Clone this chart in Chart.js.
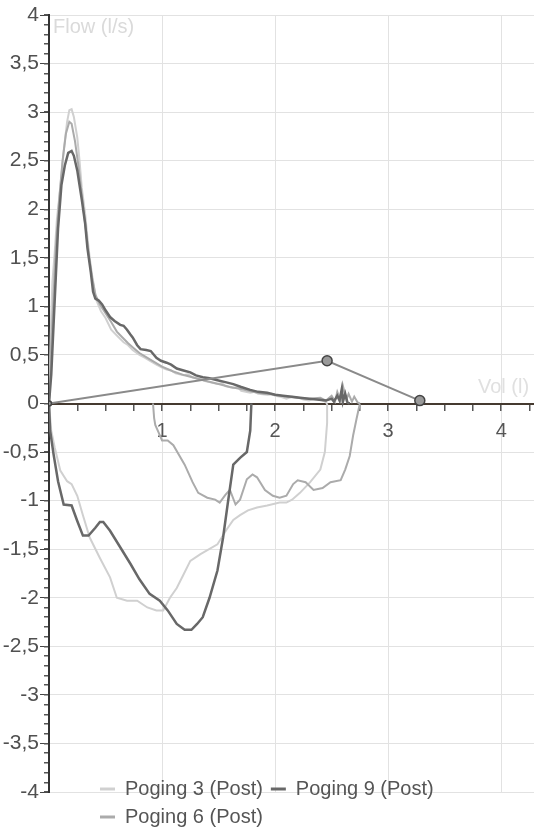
<!DOCTYPE html>
<html><head><meta charset="utf-8">
<script src="https://cdn.jsdelivr.net/npm/chart.js@4.4.1/dist/chart.umd.min.js"></script>
<style>html,body{margin:0;padding:0;background:#fff;}canvas{display:block;}</style>
</head><body>
<canvas id="c" width="534" height="829"></canvas>
<script>
// ---------------- data ----------------
const seriesNames = ['Poging 3 (Post)', 'Poging 9 (Post)', 'Poging 6 (Post)'];

const p3ExpVol  = [0,0.01,0.02,0.03,0.05,0.07,0.1,0.13,0.16,0.18,0.2,0.22,0.25,0.27,0.29,0.32,0.34,0.36,0.38,0.42,0.46,0.5,0.55,0.6,0.66,0.7,0.74,0.8,0.85,0.89,0.95,1.0,1.04,1.08,1.12,1.19,1.23,1.27,1.34,1.38,1.42,1.49,1.53,1.56,1.63,1.67,1.7,1.78,1.82,1.85,1.93,1.97,2.0,2.05,2.1,2.15,2.2,2.25,2.3,2.35,2.4,2.44,2.46];
const p3ExpFlow = [0,0.45,0.9,1.25,1.55,1.9,2.22,2.6,2.9,3.02,3.03,2.95,2.74,2.5,2.22,1.95,1.71,1.5,1.33,1.06,0.95,0.88,0.76,0.7,0.63,0.6,0.55,0.5,0.47,0.44,0.4,0.37,0.35,0.34,0.31,0.29,0.3,0.27,0.25,0.23,0.22,0.2,0.21,0.18,0.16,0.17,0.13,0.11,0.12,0.1,0.09,0.1,0.08,0.07,0.05,0.07,0.06,0.04,0.03,0.05,0.04,0.02,0];
const p3InsVol  = [0,0.02,0.05,0.1,0.16,0.2,0.25,0.3,0.36,0.45,0.54,0.6,0.69,0.78,0.87,0.95,1.01,1.07,1.13,1.19,1.25,1.34,1.49,1.57,1.63,1.69,1.76,1.84,1.93,2.04,2.1,2.15,2.22,2.31,2.4,2.44,2.46,2.46];
const p3InsFlow = [0,-0.28,-0.45,-0.69,-0.8,-0.83,-0.95,-1.15,-1.38,-1.59,-1.79,-2.0,-2.03,-2.03,-2.1,-2.13,-2.13,-2.0,-1.9,-1.76,-1.62,-1.55,-1.45,-1.3,-1.2,-1.15,-1.1,-1.07,-1.05,-1.02,-1.02,-0.99,-0.92,-0.81,-0.68,-0.5,-0.2,0];

const p9ExpVol  = [0,0.02,0.04,0.06,0.08,0.11,0.14,0.17,0.2,0.22,0.25,0.27,0.29,0.32,0.34,0.37,0.39,0.41,0.44,0.47,0.5,0.54,0.58,0.63,0.66,0.69,0.72,0.74,0.78,0.81,0.86,0.9,0.95,0.99,1.04,1.08,1.13,1.19,1.25,1.3,1.36,1.42,1.49,1.56,1.63,1.7,1.78,1.85,1.93,2.0,2.07,2.15,2.22,2.3,2.37,2.45,2.5,2.52,2.55,2.57,2.59,2.6,2.62,2.64,2.66];
const p9ExpFlow = [0,0.3,0.8,1.3,1.8,2.25,2.45,2.58,2.6,2.55,2.4,2.25,2.1,1.85,1.6,1.35,1.15,1.08,1.06,1.02,0.96,0.89,0.85,0.81,0.8,0.76,0.71,0.68,0.6,0.56,0.55,0.54,0.47,0.44,0.42,0.4,0.36,0.34,0.32,0.29,0.27,0.26,0.24,0.22,0.2,0.17,0.14,0.12,0.11,0.09,0.08,0.07,0.06,0.05,0.04,0.03,0.05,0.02,0.08,0.03,0.15,0.02,0.1,0.01,0];
const p9InsVol  = [0,0.01,0.04,0.08,0.13,0.2,0.25,0.3,0.35,0.41,0.45,0.48,0.54,0.63,0.72,0.8,0.89,0.98,1.05,1.13,1.2,1.26,1.31,1.36,1.42,1.49,1.54,1.58,1.63,1.69,1.75,1.78,1.79];
const p9InsFlow = [0,-0.28,-0.52,-0.8,-1.04,-1.05,-1.21,-1.36,-1.36,-1.28,-1.22,-1.22,-1.31,-1.48,-1.65,-1.81,-1.96,-2.03,-2.13,-2.27,-2.33,-2.33,-2.27,-2.2,-2.0,-1.72,-1.38,-1.04,-0.63,-0.56,-0.5,-0.28,0];

const p6ExpVol  = [0,0.02,0.04,0.06,0.09,0.12,0.15,0.18,0.2,0.23,0.26,0.29,0.32,0.35,0.38,0.41,0.45,0.5,0.55,0.6,0.65,0.7,0.75,0.8,0.9,1.0,1.1,1.2,1.3,1.4,1.5,1.6,1.7,1.8,1.9,2.0,2.1,2.2,2.3,2.4,2.45,2.5,2.53,2.55,2.58,2.6,2.63,2.65,2.68,2.7,2.73,2.75];
const p6ExpFlow = [0,0.6,1.1,1.6,2.1,2.5,2.78,2.9,2.88,2.7,2.45,2.15,1.85,1.55,1.3,1.12,1.02,0.93,0.84,0.74,0.68,0.62,0.57,0.52,0.45,0.38,0.33,0.29,0.26,0.23,0.2,0.17,0.15,0.12,0.1,0.09,0.07,0.06,0.05,0.06,0.03,0.08,0.02,0.12,0.03,0.18,0.04,0.1,0.02,0.07,0.01,0];
const p6InsVol  = [0.92,0.93,0.94,0.97,1.0,1.05,1.1,1.2,1.27,1.32,1.4,1.47,1.51,1.56,1.6,1.65,1.69,1.75,1.8,1.84,1.91,1.98,2.04,2.1,2.16,2.2,2.27,2.34,2.42,2.49,2.58,2.62,2.66,2.69,2.72,2.75];
const p6InsFlow = [0,-0.15,-0.22,-0.3,-0.38,-0.38,-0.43,-0.63,-0.81,-0.92,-0.97,-0.99,-1.02,-0.94,-0.89,-1.04,-0.99,-0.78,-0.73,-0.76,-0.89,-0.95,-0.97,-0.95,-0.83,-0.79,-0.81,-0.89,-0.87,-0.81,-0.79,-0.68,-0.54,-0.33,-0.16,0];

const markerVol  = [0, 2.46, 3.28];
const markerFlow = [0, 0.44, 0.03];

const yTickStep = 0.5, yMinorStep = 0.1, xTickStep = 1, xMinorStep = 0.25;
const yMin = -4, yMax = 4, xMin = 0, xMax = 4.29;
const yAxisTitle = 'Flow (l/s)', xAxisTitle = 'Vol (l)';

// ---------------- helpers ----------------
function pts(vol, flow) {
  const n = Math.min(vol.length, flow.length);
  const out = [];
  for (let i = 0; i < n; i++) out.push({x: vol[i], y: flow[i]});
  return out;
}
function loop(ev, ef, iv, inf) {
  return pts(ev, ef).concat([{x: ev[ev.length - 1], y: null}], pts(iv, inf));
}
const FONT = '"Liberation Sans", Arial, Helvetica, sans-serif';
const colors = ['#d0d0d0', '#686868', '#ababab'];
function zeroPad(s) { s.paddingLeft = 0; s.paddingRight = 0; s.paddingTop = 0; s.paddingBottom = 0; }

const textPlugin = {
  id: 'axisTexts',
  beforeDatasetsDraw(chart) {
    const ctx = chart.ctx;
    ctx.save();
    ctx.font = '20px ' + FONT;
    ctx.textBaseline = 'alphabetic';
    ctx.textAlign = 'left';
    ctx.fillStyle = '#dadada';
    ctx.fillText(yAxisTitle, 53, 33);
    ctx.fillStyle = '#e0e0e0';
    ctx.fillText(xAxisTitle, 478, 393);
    ctx.restore();
  }
};

const legendPlacer = {
  id: 'legendPlacer',
  beforeLayout(chart) {
    const lg = chart.legend;
    if (lg && !lg._fitPatched) {
      const origFit = lg.fit;
      lg.fit = function () { origFit.call(this); this.height = 37; };
      lg._fitPatched = true;
    }
  },
  afterLayout(chart) {
    const lg = chart.legend;
    if (!lg) return;
    const dx = 92 - lg.left;
    lg.left += dx; lg.right += dx;
    lg.top = 771; lg.bottom = 829; lg.height = 58;
  }
};

new Chart(document.getElementById('c'), {
  type: 'scatter',
  data: {
    datasets: [
      {label: seriesNames[0], data: loop(p3ExpVol, p3ExpFlow, p3InsVol, p3InsFlow), showLine: true,
       borderColor: colors[0], backgroundColor: colors[0], borderWidth: 2, pointRadius: 0, order: 3},
      {label: seriesNames[1], data: loop(p9ExpVol, p9ExpFlow, p9InsVol, p9InsFlow), showLine: true,
       borderColor: colors[1], backgroundColor: colors[1], borderWidth: 2.5, pointRadius: 0, order: 1},
      {label: seriesNames[2], data: loop(p6ExpVol, p6ExpFlow, p6InsVol, p6InsFlow), showLine: true,
       borderColor: colors[2], backgroundColor: colors[2], borderWidth: 2, pointRadius: 0, order: 2},
      {label: 'markers', data: pts(markerVol, markerFlow), showLine: true,
       borderColor: '#8a8a8a', borderWidth: 2, pointRadius: [2.5, 5, 5],
       pointBackgroundColor: '#9a9a9a', pointBorderColor: '#444', pointBorderWidth: 1.5, order: 0}
    ]
  },
  options: {
    responsive: false,
    animation: false,
    devicePixelRatio: 1,
    layout: {autoPadding: false, padding: {top: 15, right: 0, bottom: 0, left: 0}},
    elements: {line: {tension: 0}},
    scales: {
      x: {
        type: 'linear', axis: 'x', position: {y: 0}, min: xMin, max: xMax,
        afterFit: s => { s.height = 0; zeroPad(s); },
        ticks: {stepSize: xTickStep, includeBounds: false, autoSkip: false, maxRotation: 0,
          color: '#555', font: {family: FONT, size: 20}, padding: 4,
          callback: v => (v === 0 ? '' : String(v))},
        grid: {color: '#e2e2e2', lineWidth: 1, drawTicks: true, tickLength: 12, tickColor: 'rgba(0,0,0,0)'},
        border: {display: true, color: '#453a30', width: 2}
      },
      xMinor: {
        type: 'linear', axis: 'x', position: {y: 0}, min: xMin, max: xMax,
        afterFit: s => { s.height = 0; zeroPad(s); },
        ticks: {display: false, stepSize: xMinorStep, includeBounds: false, autoSkip: false},
        grid: {drawOnChartArea: false, drawTicks: true, tickLength: 7, tickColor: '#555', lineWidth: 1.5},
        border: {display: false}
      },
      y: {
        type: 'linear', axis: 'y', position: 'left', min: yMin, max: yMax,
        afterFit: s => { s.width = 49; zeroPad(s); },
        ticks: {stepSize: yTickStep, autoSkip: false, color: '#505050', font: {family: FONT, size: 21}, padding: 1,
          callback: v => String(Math.round(v * 10) / 10).replace('.', ',')},
        grid: {color: '#e2e2e2', lineWidth: 1, drawTicks: true, tickLength: 9, tickColor: '#444'},
        border: {display: true, color: '#333', width: 2}
      },
      yMinor: {
        type: 'linear', axis: 'y', position: {x: 0}, min: yMin, max: yMax,
        afterFit: s => { s.width = 0; zeroPad(s); },
        ticks: {display: false, stepSize: yMinorStep, autoSkip: false},
        grid: {drawOnChartArea: false, drawTicks: true, tickLength: 5, tickColor: '#555', lineWidth: 1.5},
        border: {display: false}
      }
    },
    plugins: {
      tooltip: {enabled: false},
      legend: {
        display: true, position: 'bottom', align: 'start', fullSize: false,
        labels: {
          color: '#555', font: {family: FONT, size: 20}, boxWidth: 15, boxHeight: 3, padding: 8,
          filter: item => item.datasetIndex < 3,
          sort: (a, b) => a.datasetIndex - b.datasetIndex,
          generateLabels: chart => Chart.defaults.plugins.legend.labels.generateLabels(chart)
            .map(it => Object.assign({}, it, {fillStyle: it.strokeStyle, lineWidth: 0}))
        }
      }
    }
  },
  plugins: [textPlugin, legendPlacer]
});
</script>
</body></html>
